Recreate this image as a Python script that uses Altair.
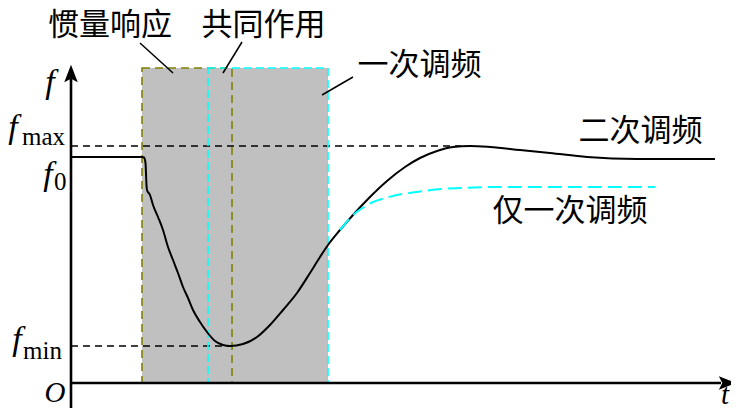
import altair as alt
import pandas as pd

# ---- data (t: time units, f: frequency units; axis origin at t=0, f=0) ----
t_black = [0.0, 7.1, 7.3, 7.45, 7.55, 7.6, 7.9, 8.2, 8.7, 9.2, 9.7, 10.2, 10.7, 11.2, 11.7, 12.2,
           12.9, 13.6, 14.4, 15.2, 15.9, 17.2, 18.6, 19.9, 21.2, 22.6, 23.9, 24.9, 25.7,
           26.9, 28.2, 29.7, 31.6, 33.4, 34.9, 36.6, 38.2, 39.9, 41.9, 44.9, 47.9, 51.6,
           56.6, 64.4]
f_black = [22.6, 22.6, 22.55, 22.0, 19.8, 19.3, 18.8, 17.8, 16.6, 15.3, 13.6, 12.3, 11.0, 9.6, 8.5, 7.3,
           6.1, 5.1, 4.2, 3.8, 3.7, 3.9, 4.6, 5.8, 7.3, 9.0, 11.0, 12.6, 13.8,
           15.3, 16.8, 18.4, 20.2, 21.6, 22.5, 23.2, 23.6, 23.7, 23.6, 23.3, 23.0, 22.6,
           22.4, 22.4]

t_cyan = [26.9, 27.4, 28.1, 28.7, 29.3, 30.2, 31.1, 32.6, 34.6, 36.4, 38.9, 42.9, 58.4]
f_cyan = [15.3, 15.9, 16.7, 17.2, 17.6, 18.1, 18.4, 18.8, 19.1, 19.35, 19.5, 19.6, 19.6]

F0, FMAX, FMIN = 22.6, 23.7, 3.7
T_INERTIA = [7.1, 16.1]     # 惯量响应 window
T_PRIMARY = [13.7, 25.7]    # 一次调频 window
F_TOP = 31.5

region_labels = ["惯量响应", "共同作用", "一次调频", "二次调频", "仅一次调频"]
region_t = [3.9, 19.25, 34.85, 56.95, 49.9]
region_f = [35.7, 35.7, 31.7, 25.1, 17.1]

leader_t1 = [6.9, 17.1, 28.2]
leader_f1 = [34.0, 34.1, 30.6]
leader_t2 = [10.2, 15.2, 25.1]
leader_f2 = [31.0, 31.0, 28.8]

XS = alt.Scale(domain=[-6.3, 66.0], nice=False, zero=False)
YS = alt.Scale(domain=[-2.5, 37.5], nice=False, zero=False)


def X(field, **kw):
    return alt.X(field, type="quantitative", scale=XS, axis=None, **kw)


def Y(field, **kw):
    return alt.Y(field, type="quantitative", scale=YS, axis=None, **kw)


black_df = pd.DataFrame({"t": t_black, "f": f_black})
cyan_df = pd.DataFrame({"t": t_cyan, "f": f_cyan})

gray = alt.Chart(pd.DataFrame({"t1": [T_INERTIA[0]], "t2": [T_PRIMARY[1]], "f1": [0.0], "f2": [F_TOP]})).mark_rect(
    fill="#c0c0c0").encode(x=X("t1"), x2="t2", y=Y("f1"), y2="f2")

olive_box = alt.Chart(pd.DataFrame({"t1": [T_INERTIA[0]], "t2": [T_INERTIA[1]], "f1": [0.0], "f2": [F_TOP]})).mark_rect(
    fillOpacity=0, stroke="#808000", strokeWidth=1.6, strokeDash=[8, 5]).encode(x=X("t1"), x2="t2", y=Y("f1"), y2="f2")

cyan_box = alt.Chart(pd.DataFrame({"t1": [T_PRIMARY[0]], "t2": [T_PRIMARY[1]], "f1": [0.0], "f2": [F_TOP]})).mark_rect(
    fillOpacity=0, stroke="#00ffff", strokeWidth=1.6, strokeDash=[8, 4]).encode(x=X("t1"), x2="t2", y=Y("f1"), y2="f2")

ref_df = pd.DataFrame({"t1": [0.0, 0.0], "t2": [39.0, 16.1], "f": [FMAX, FMIN]})
refs = alt.Chart(ref_df).mark_rule(color="black", strokeWidth=1.5, strokeDash=[7, 5]).encode(
    x=X("t1"), x2="t2", y=Y("f"))

black_line = alt.Chart(black_df).mark_line(color="black", strokeWidth=2, interpolate="monotone").encode(
    x=X("t"), y=Y("f"))

cyan_line = alt.Chart(cyan_df).mark_line(color="#00ffff", strokeWidth=2, strokeDash=[14, 6],
                                         interpolate="monotone").encode(x=X("t"), y=Y("f"))

axes_df = pd.DataFrame({"t1": [0.0, 0.0], "t2": [0.0, 65.0], "f1": [-2.5, 0.0], "f2": [30.4, 0.0]})
axes = alt.Chart(axes_df).mark_rule(color="black", strokeWidth=2.6).encode(
    x=X("t1"), x2="t2", y=Y("f1"), y2="f2")

arrow_up = alt.Chart(pd.DataFrame({"t": [0.0], "f": [30.95]})).mark_point(
    shape="M0,-1 L0.78,1 L0,0.6 L-0.78,1 Z", size=300, filled=True, color="black", opacity=1).encode(
    x=X("t"), y=Y("f"))
arrow_right = alt.Chart(pd.DataFrame({"t": [65.65], "f": [0.0]})).mark_point(
    shape="M1,0 L-1,-0.78 L-0.6,0 L-1,0.78 Z", size=300, filled=True, color="black", opacity=1).encode(
    x=X("t"), y=Y("f"))

leaders = alt.Chart(pd.DataFrame({"t1": leader_t1, "f1": leader_f1, "t2": leader_t2, "f2": leader_f2})).mark_rule(
    color="black", strokeWidth=1.5).encode(x=X("t1"), y=Y("f1"), x2="t2", y2="f2")

cjk = alt.Chart(pd.DataFrame({"label": region_labels, "t": region_t, "f": region_f})).mark_text(
    font="Noto Sans CJK SC", fontSize=31, align="center", baseline="middle", color="black").encode(
    x=X("t"), y=Y("f"), text="label:N")

ital_df = pd.DataFrame({"label": ["f", "f", "f", "f"],
                        "t": [-2.1, -5.8, -2.3, -5.4],
                        "f": [29.0, 24.5, 19.8, 3.3]})
ital = alt.Chart(ital_df).mark_text(font="Liberation Serif", fontStyle="italic", fontSize=34,
                                    align="center", baseline="alphabetic", color="black").encode(
    x=X("t"), y=Y("f"), text="label:N")

ot_df = pd.DataFrame({"label": ["O", "t"], "t": [-1.6, 65.4], "f": [-1.9, -2.05]})
ot = alt.Chart(ot_df).mark_text(font="Liberation Serif", fontStyle="italic", fontSize=29,
                                align="center", baseline="alphabetic", color="black").encode(
    x=X("t"), y=Y("f"), text="label:N")

sub_df = pd.DataFrame({"label": ["max", "0", "min"], "t": [-4.9, -1.7, -4.8], "f": [23.8, 19.3, 2.4]})
subs = alt.Chart(sub_df).mark_text(font="Liberation Serif", fontSize=25, align="left",
                                   baseline="alphabetic", color="black").encode(
    x=X("t"), y=Y("f"), text="label:N")

chart = alt.layer(gray, refs, olive_box, cyan_box, black_line, cyan_line, axes, arrow_up, arrow_right,
                  leaders, cjk, ital, ot, subs).properties(
    width=723, height=400, padding=0, autosize=alt.AutoSizeParams(type="none")
).configure_view(stroke=None)

chart.save("out.html", embed_options={"renderer": "svg", "actions": False})
